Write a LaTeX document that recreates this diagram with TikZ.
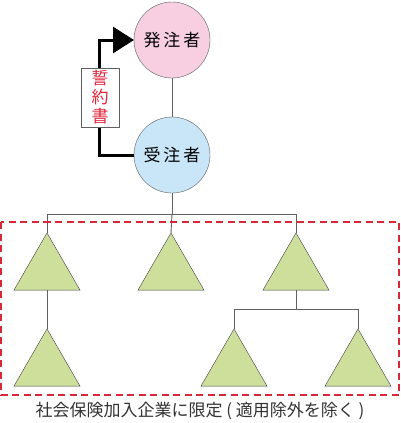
\documentclass[tikz,border=0pt]{standalone}
\usepackage{fontspec}
\setmainfont{Noto Sans CJK JP}
\usetikzlibrary{shapes.geometric,arrows.meta}
\definecolor{clientfill}{RGB}{247, 207, 225}
\definecolor{contractorfill}{RGB}{200, 230, 248}
\definecolor{subfill}{RGB}{206, 223, 156}
\definecolor{pledgered}{RGB}{226, 36, 58}
\definecolor{boxred}{RGB}{214, 40, 56}
\definecolor{linegray}{RGB}{96, 96, 96}

\tikzset{
  party/.style={circle, draw=linegray, minimum size=76pt, inner sep=0pt, outer sep=0pt, font=\fontsize{17}{20}\selectfont},
  subco/.style={regular polygon, regular polygon sides=3, draw=black!75, fill=subfill, minimum size=76.2pt, inner sep=0pt, outer sep=0pt},
  link/.style={draw=linegray, line width=0.9pt}
}

\begin{document}
\begin{tikzpicture}[x=1pt, y=-1pt]
	\useasboundingbox (0,0) rectangle (400,423);
	\node[party, fill=clientfill] (hachu) at (172,40) {発\,注\,者};
	\node[party, fill=contractorfill] (juchu) at (172,155) {受\,注\,者};
	\node[subco] (sub1) at (47,271) {};
	\node[subco] (sub2) at (171,271) {};
	\node[subco] (sub3) at (296,271) {};
	\node[subco] (sub4) at (47,367) {};
	\node[subco] (sub5) at (234,367) {};
	\node[subco] (sub6) at (358,367) {};
	\coordinate (split) at (172,214);
	\coordinate (split3) at (296,309);
	\draw[link] (hachu) -- (juchu);
	\draw[link] (juchu) -- (split);
	\draw[link] (sub1.north) -- (sub1.north |- split) -- (sub3.north |- split) -- (sub3.north);
	\draw[link] (split) -- (sub2.north);
	\draw[link] (sub1.south) -- (sub4.north);
	\draw[link] (sub3.south) -- (split3);
	\draw[link] (sub5.north) -- (sub5.north |- split3) -- (sub6.north |- split3) -- (sub6.north);
	\draw[line width=3pt, -{Triangle[length=21pt, width=26pt]}] (juchu.west) -- ++(-35,0) |- (hachu.west);
	\node[draw=linegray, fill=white, minimum width=38pt, minimum height=59pt, inner sep=0pt, text=pledgered, align=center, font=\fontsize{17}{19}\selectfont] (pledge) at (100,97.5) {誓\\約\\書};
	\draw[boxred, line width=1.5pt, dash pattern=on 7pt off 4.5pt] (1,222) rectangle (399,395);
	\node[text=black!80, font=\fontsize{17}{20}\selectfont] (scope) at (200,411) {社会保険加入企業に限定 ( 適用除外を除く )};
\end{tikzpicture}
\end{document}
